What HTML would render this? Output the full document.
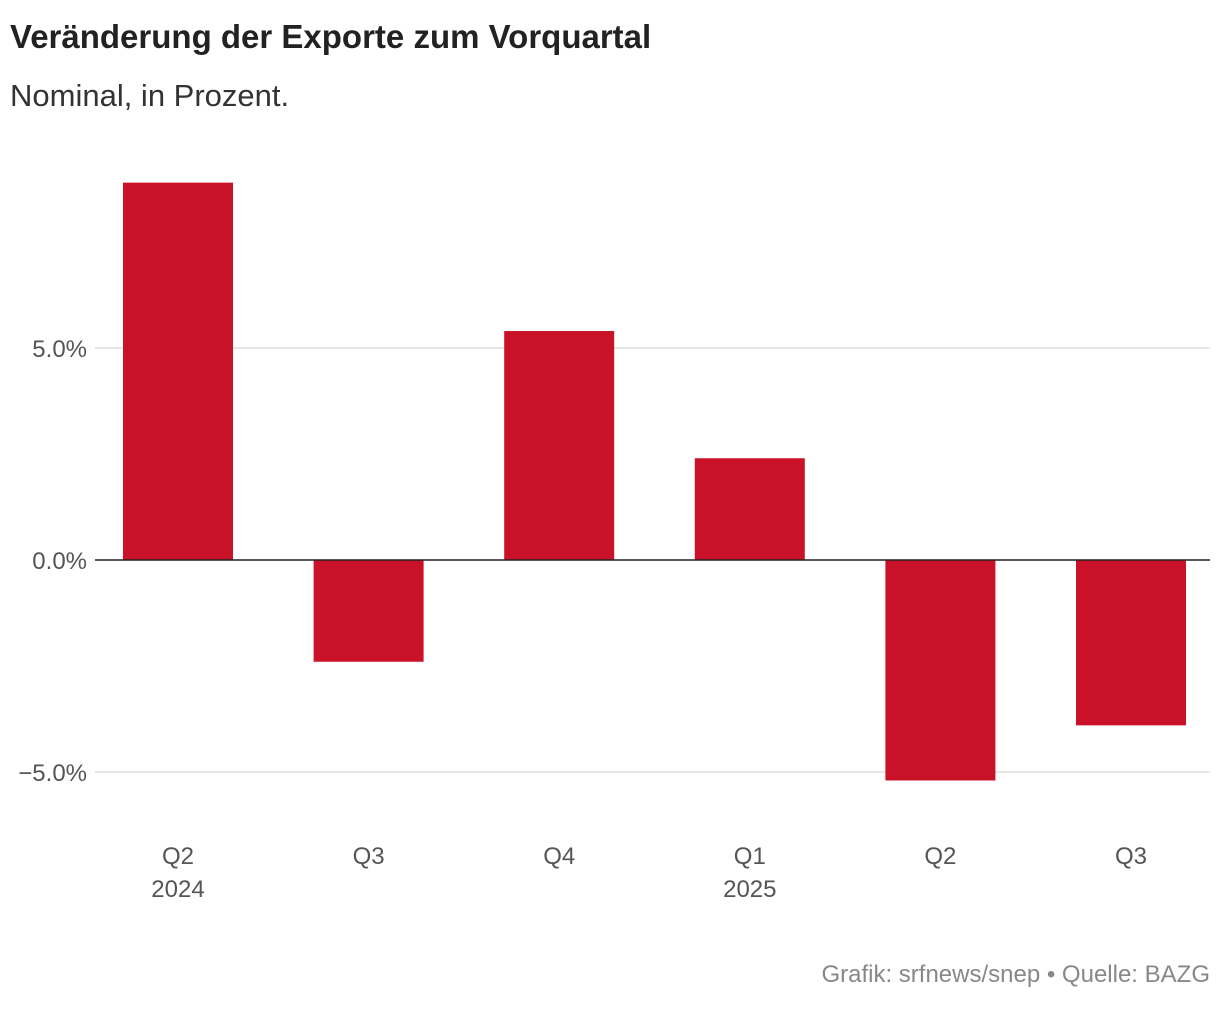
<!DOCTYPE html>
<html><head><meta charset="utf-8"><style>
body{margin:0;background:#fff;font-family:"Liberation Sans",sans-serif;}
</style></head><body>
<svg width="1220" height="1004" xmlns="http://www.w3.org/2000/svg">
<text x="10" y="48" font-size="33" font-weight="bold" fill="#222">Veränderung der Exporte zum Vorquartal</text>
<text x="10" y="106" font-size="31" fill="#333">Nominal, in Prozent.</text>
<g id="grid"></g><g id="bars"></g><g id="xlab"></g>
<text x="1210" y="982" font-size="24" fill="#888" text-anchor="end">Grafik: srfnews/snep • Quelle: BAZG</text>
</svg>
<script>
const categories=["Q2","Q3","Q4","Q1","Q2","Q3"];
const years=["2024","","","2025","",""];
const values=[8.9,-2.4,5.4,2.4,-5.2,-3.9];
const ticks=[5,0,-5];
const tickLabels=["5.0%","0.0%","\u22125.0%"];
const NS="http://www.w3.org/2000/svg";
const y=v=>560-v*42.4;
const x0=82.7,band=190.6,bw=110;
const xc=i=>x0+band*(i+0.5);
function mk(t,a,p){const e=document.createElementNS(NS,t);for(const k in a)e.setAttribute(k,a[k]);p.appendChild(e);return e;}
const g=document.getElementById('grid');
ticks.forEach((t,i)=>{
 const l=mk('line',{x1:95,x2:1210,y1:y(t),y2:y(t),stroke:t===0?'#222':'#ddd','stroke-width':t===0?1.5:1.5},g);
 
 
 const tx=mk('text',{x:87,y:y(t)+9,'font-size':24,fill:'#555','text-anchor':'end'},g);
 tx.textContent=tickLabels[i];
 
 
});
const b=document.getElementById('bars'),xl=document.getElementById('xlab');
values.forEach((v,i)=>{
 const r=mk('rect',{x:xc(i)-bw/2,y:Math.min(y(v),y(0)),width:bw,height:Math.abs(y(v)-y(0)),fill:'#c91228'},b);
 
 
 const t=mk('text',{x:xc(i),y:864,'font-size':24,fill:'#555','text-anchor':'middle'},xl);
 t.textContent=categories[i];
 
 
 if(years[i]){const t2=mk('text',{x:xc(i),y:897,'font-size':24,fill:'#555','text-anchor':'middle'},xl);
 t2.textContent=years[i];
 
 }
});
b.parentNode.insertBefore(b,g.nextSibling);
const zl=g.children[2];g.parentNode.appendChild(zl);
</script>
</body></html>
